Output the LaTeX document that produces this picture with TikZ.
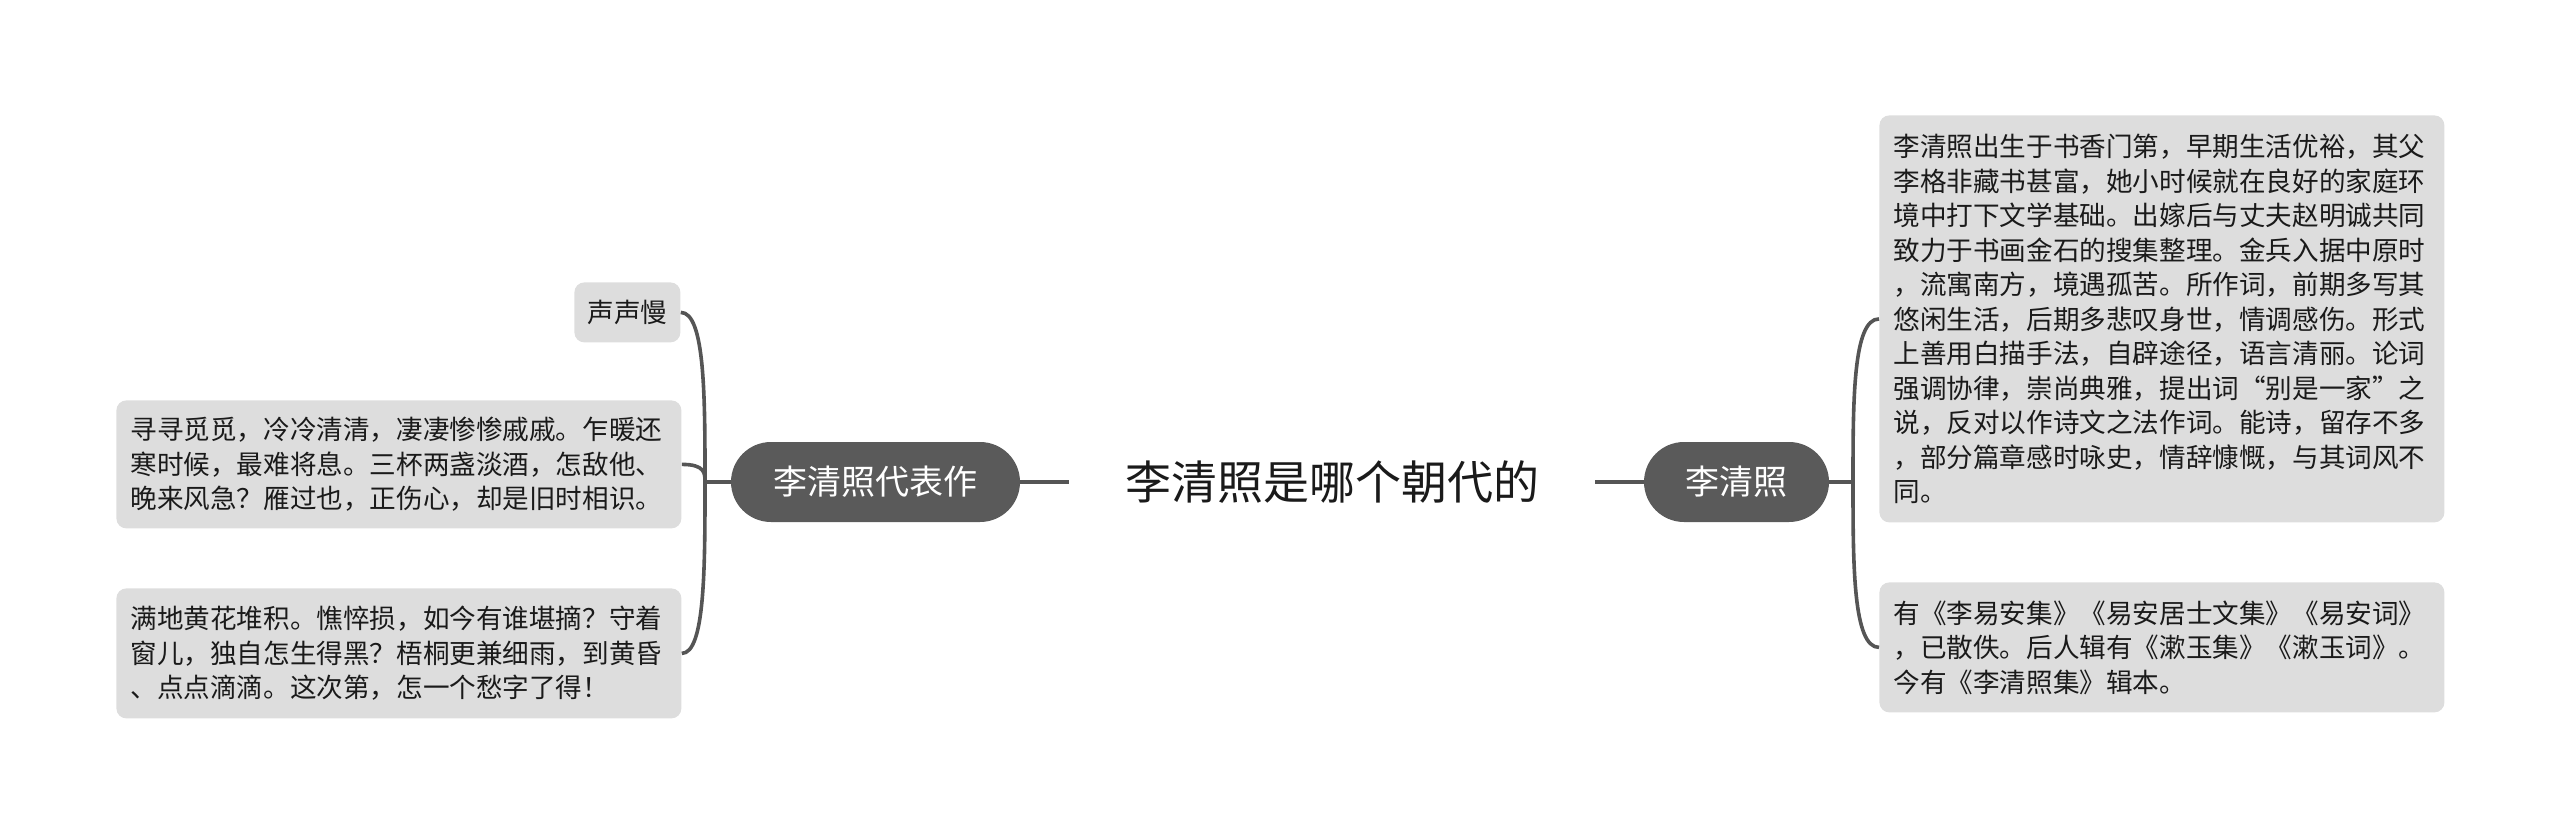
\documentclass[tikz,border=0pt]{standalone}
\usepackage{fontspec}
\newfontfamily\cjk{Noto Sans CJK SC}
\usetikzlibrary{shapes.misc,calc}
\definecolor{nodefill}{HTML}{5A5A5A}
\definecolor{boxfill}{HTML}{DDDDDD}
\definecolor{linec}{HTML}{555555}
\definecolor{txt}{HTML}{1A1A1A}
\begin{document}
\begin{tikzpicture}[x=0.5pt,y=-0.5pt,
  conn/.style={draw=linec,line width=1.8pt},
  topic/.style={rounded rectangle, fill=nodefill, text=white, minimum height=40pt, inner sep=0pt, font=\cjk\fontsize{17}{20}\selectfont},
  leafbase/.style={fill=boxfill, rounded corners=5pt, anchor=north west, inner xsep=7pt, inner ysep=0pt, text=txt, font=\cjk\fontsize{13.3}{17.25}\selectfont},
  leaf/.style={leafbase, text width=268.5pt, align=left},
  ]
\useasboundingbox (0,0) rectangle (2560,835);

% central topic
\node[font=\cjk\fontsize{23}{28}\selectfont, text=txt, minimum width=263pt, minimum height=40pt, inner sep=0pt] (root) at (1332,482) {李清照是哪个朝代的};

% main topics
\node[topic, minimum width=144.5pt] (lt) at (875.5,482) {李清照代表作};
\node[topic, minimum width=92.5pt] (rt) at (1736.5,482) {李清照};

% junctions
\coordinate (jl) at (705,482);
\coordinate (jr) at (1853,482);

% left leaves
\node[leafbase, minimum width=53pt, minimum height=30pt, inner xsep=0pt, align=center] (l1) at (574,282) {声声慢};
\node[leaf, minimum height=64pt] (l2) at (116,400) {寻寻觅觅，冷冷清清，凄凄惨惨戚戚。乍暖还\\寒时候，最难将息。三杯两盏淡酒，怎敌他、\\晚来风急？雁过也，正伤心，却是旧时相识。};
\node[leaf, minimum height=65pt] (l3) at (116,588) {满地黄花堆积。憔悴损，如今有谁堪摘？守着\\窗儿，独自怎生得黑？梧桐更兼细雨，到黄昏\\、点点滴滴。这次第，怎一个愁字了得！};

% right leaves
\node[leaf, minimum height=203.5pt] (r1) at (1879,115) {李清照出生于书香门第，早期生活优裕，其父\\李格非藏书甚富，她小时候就在良好的家庭环\\境中打下文学基础。出嫁后与丈夫赵明诚共同\\致力于书画金石的搜集整理。金兵入据中原时\\，流寓南方，境遇孤苦。所作词，前期多写其\\悠闲生活，后期多悲叹身世，情调感伤。形式\\上善用白描手法，自辟途径，语言清丽。论词\\强调协律，崇尚典雅，提出词“别是一家”之\\说，反对以作诗文之法作词。能诗，留存不多\\，部分篇章感时咏史，情辞慷慨，与其词风不\\同。};
\node[leaf, minimum height=65pt] (r2) at (1879,582) {有《李易安集》《易安居士文集》《易安词》\\，已散佚。后人辑有《漱玉集》《漱玉词》。\\今有《李清照集》辑本。};

% connectors
\draw[conn] (root.west) -- (lt.east);
\draw[conn] (root.east) -- (rt.west);
\draw[conn] (lt.west) -- (jl);
\draw[conn] (rt.east) -- (jr);
\foreach \c in {l1,l2,l3}{
  \draw[conn] (jl) .. controls ($(jl)!0.5!(jl|-\c.east)$) and (jl|-\c.east) .. (\c.east);
}
\foreach \c in {r1,r2}{
  \draw[conn] (jr) .. controls ($(jr)!0.5!(jr|-\c.west)$) and (jr|-\c.west) .. (\c.west);
}
\end{tikzpicture}
\end{document}
